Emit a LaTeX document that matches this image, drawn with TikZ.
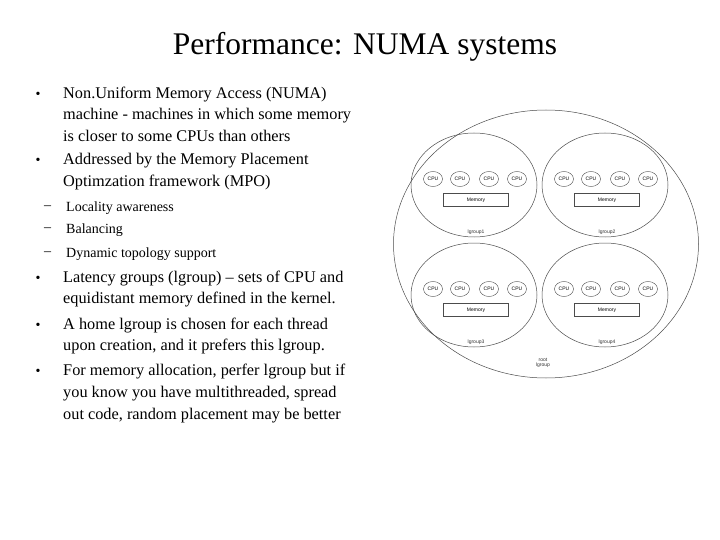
\documentclass[tikz,border=0pt]{standalone}
\usepackage{fontspec}
\setmainfont{Liberation Serif}
\newfontfamily\diagfont{Liberation Sans}
\usetikzlibrary{shapes.geometric}
\begin{document}
\begin{tikzpicture}[x=1pt,y=-1pt,
    txt/.style={anchor=west,inner sep=0pt,font=\fontsize{16.3}{19}\selectfont},
    sub/.style={anchor=west,inner sep=0pt,font=\fontsize{14}{17}\selectfont},
    bul/.style={anchor=center,inner sep=0pt,font=\fontsize{14}{14}\selectfont},
    grp/.style={draw=black!70,line width=0.5pt,ellipse},
    cpu/.style={draw=black!70,line width=0.4pt,ellipse,minimum width=19pt,minimum height=15pt,inner sep=0pt,font=\diagfont\fontsize{5}{6}\selectfont},
    mem/.style={draw=black!70,line width=0.4pt,minimum width=65pt,minimum height=13pt,inner sep=0pt,font=\diagfont\fontsize{5}{6}\selectfont},
    lbl/.style={inner sep=0pt,font=\diagfont\fontsize{5}{6}\selectfont,text=black!80,align=center}]
\useasboundingbox (0,0) rectangle (720,540);
\node[inner sep=0pt,font=\fontsize{31.5}{34}\selectfont] (title) at (365,47) {Performance: NUMA systems};
% bullets
\foreach \y in {95,161,279,326,372} \node[bul] at (38,\y) {\textbullet};
\foreach \y in {208,230,254} \node[sub] at (44,\y) {--};
\node[txt] (t1) at (63,95) {Non.Uniform Memory Access (NUMA)};
\node[txt] (t2) at (63,116) {machine - machines in which some memory};
\node[txt] (t3) at (63,136) {is closer to some CPUs than others};
\node[txt] (t4) at (63,161) {Addressed by the Memory Placement};
\node[txt] (t5) at (63,182) {Optimzation framework (MPO)};
\node[sub] (s1) at (66,208) {Locality awareness};
\node[sub] (s2) at (66,230) {Balancing};
\node[sub] (s3) at (66,254) {Dynamic topology support};
\node[txt] (t6) at (63,279) {Latency groups (lgroup) -- sets of CPU and};
\node[txt] (t7) at (63,300) {equidistant memory defined in the kernel.};
\node[txt] (t8) at (63,326) {A home lgroup is chosen for each thread};
\node[txt] (t9) at (63,347) {upon creation, and it prefers this lgroup.};
\node[txt] (t10) at (63,372) {For memory allocation, perfer lgroup but if};
\node[txt] (t11) at (63,394) {you know you have multithreaded, spread};
\node[txt] (t12) at (63,416) {out code, random placement may be better};
% diagram
\node[grp,minimum width=305pt,minimum height=268pt] (root) at (546,244) {};
\node[lbl] (rootl) at (543,363) {root\\[-1pt]lgroup};
\foreach \cx/\cy/\n in {474/185/1, 605/185/2, 474/295/3, 605/295/4} {
  \node[grp,minimum width=126pt,minimum height=104pt] (g\n) at (\cx,\cy) {};
  \foreach \i/\dx in {1/-41,2/-14,3/15,4/43}
    \node[cpu] (c\n\i) at (\cx+\dx,\cy-6) {CPU};
  \node[mem] (m\n) at (\cx+2,\cy+15) {Memory};
  \node[lbl] (l\n) at (\cx+2,\cy+47) {lgroup\n};
}
\end{tikzpicture}
\end{document}
